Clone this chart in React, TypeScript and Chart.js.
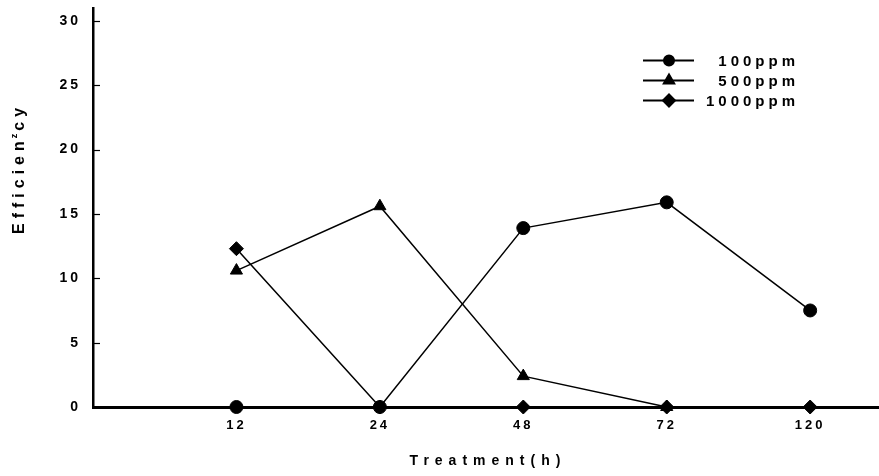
import React, { useEffect, useRef } from 'react';
import { Chart, registerables } from 'chart.js';
import { drawPoint } from 'chart.js/helpers';

Chart.register(...registerables);

const categories = ['12', '24', '48', '72', '120'];
const yTicks = [0, 5, 10, 15, 20, 25, 30];
const series100 = [0, 0, 13.9, 15.9, 7.5];
const series500 = [10.6, 15.6, 2.4, 0, null];
const series1000 = [12.3, 0, 0, 0, 0];
const seriesNames = ['100ppm', '500ppm', '1000ppm'];
const xTitle = 'Treatment(h)';
const yTitleMain = 'Efficien';
const yTitleSup = 'z';
const yTitleEnd = 'cy';

const FONT = '"Liberation Sans", Arial, Helvetica, sans-serif';

const toPoints = (vals: (number | null)[]) =>
  categories.map((_, i) => ({ x: i + 1, y: vals[i] }));

const legendStyles = [
  { style: 'circle', r: 5 },
  { style: 'triangle', r: 6 },
  { style: 'rectRot', r: 6 },
];

const decorPlugin = {
  id: 'decor',
  beforeDraw(chart: any) {
    chart.ctx.letterSpacing = '3px';
  },
  afterDraw(chart: any) {
    const ctx = chart.ctx as CanvasRenderingContext2D;
    const ys = chart.scales.y;
    const xs = chart.scales.x;
    ctx.save();
    ctx.letterSpacing = '0px';
    ctx.strokeStyle = '#000';
    ctx.fillStyle = '#000';
    // inward y tick marks
    ctx.lineWidth = 1.2;
    yTicks.forEach((v) => {
      const py = Math.round(ys.getPixelForValue(v)) + 0.5;
      ctx.beginPath();
      ctx.moveTo(xs.left, py);
      ctx.lineTo(xs.left + 7, py);
      ctx.stroke();
    });

    // legend
    seriesNames.forEach((name, i) => {
      const y = 60.5 + i * 20;
      ctx.lineWidth = 2;
      ctx.beginPath();
      ctx.moveTo(643, y);
      ctx.lineTo(694, y);
      ctx.stroke();
      const st = legendStyles[i];
      drawPoint(ctx, { pointStyle: st.style, radius: st.r, rotation: 0, borderWidth: 1 } as any, 669, y);
      ctx.font = `bold 15px ${FONT}`;
      ctx.letterSpacing = '4px';
      ctx.textAlign = 'right';
      ctx.textBaseline = 'middle';
      ctx.fillText(name, 799, y + 1);
      ctx.letterSpacing = '0px';
    });

    // x title
    ctx.font = `bold 14px ${FONT}`;
    ctx.letterSpacing = '6px';
    ctx.textAlign = 'center';
    ctx.textBaseline = 'middle';
    ctx.fillText(xTitle, 488, 461);

    // y title (rotated, with superscript)
    ctx.translate(24, 171);
    ctx.rotate(-Math.PI / 2);
    ctx.textAlign = 'left';
    ctx.textBaseline = 'alphabetic';
    ctx.font = `bold 16px ${FONT}`;
    ctx.letterSpacing = '5px';
    const w1 = ctx.measureText(yTitleMain).width;
    const w3 = ctx.measureText(yTitleEnd).width;
    ctx.font = `bold 9px ${FONT}`;
    ctx.letterSpacing = '0px';
    const w2 = ctx.measureText(yTitleSup).width + 1;
    const total = w1 + w2 + w3 - 5;
    const start = -total / 2;
    ctx.font = `bold 16px ${FONT}`;
    ctx.letterSpacing = '5px';
    ctx.fillText(yTitleMain, start, 0);
    ctx.font = `bold 9px ${FONT}`;
    ctx.letterSpacing = '0px';
    ctx.fillText(yTitleSup, start + w1 - 2, -7);
    ctx.font = `bold 16px ${FONT}`;
    ctx.letterSpacing = '5px';
    ctx.fillText(yTitleEnd, start + w1 + w2, 0);
    ctx.restore();
    ctx.letterSpacing = '0px';
  },
};

export default function App() {
  const ref = useRef<HTMLCanvasElement | null>(null);
  useEffect(() => {
    if (!ref.current) return;
    const common = {
      borderColor: '#000',
      backgroundColor: '#000',
      pointBackgroundColor: '#000',
      pointBorderColor: '#000',
      borderWidth: 1.5,
      pointBorderWidth: 1,
      spanGaps: false,
      tension: 0,
      clip: false,
    };
    const chart = new Chart(ref.current, {
      type: 'line',
      data: {
        datasets: [
          { ...common, label: seriesNames[0], data: toPoints(series100), pointStyle: 'circle', pointRadius: 6.5, order: 0 },
          { ...common, label: seriesNames[1], data: toPoints(series500), pointStyle: 'triangle', pointRadius: 7, order: 2 },
          { ...common, label: seriesNames[2], data: toPoints(series1000), pointStyle: 'rectRot', pointRadius: 7, order: 1 },
        ] as any,
      },
      options: {
        responsive: false,
        animation: false,
        devicePixelRatio: 1,
        layout: { autoPadding: false, padding: { top: 8, right: 0, left: 0, bottom: 0 } },
        plugins: { legend: { display: false }, tooltip: { enabled: false } },
        scales: {
          x: {
            type: 'linear',
            min: 0,
            max: 5.48,
            grid: { display: false, drawTicks: false },
            border: { display: true, color: '#000', width: 3 },
            ticks: {
              color: '#000',
              font: { family: FONT, size: 13, weight: 'bold' },
              padding: 11,
              autoSkip: false,
              maxRotation: 0,
              callback: (v: any) => categories[Number(v) - 1] ?? '',
            },
            afterBuildTicks: (s: any) => {
              s.ticks = categories.map((_, i) => ({ value: i + 1 }));
            },
            afterFit: (s: any) => {
              s.height = 69;
              s.paddingLeft = 0;
              s.paddingRight = 0;
            },
          },
          y: {
            min: 0,
            max: 31,
            grid: { display: false, drawTicks: false },
            border: { display: true, color: '#000', width: 2.5 },
            ticks: {
              color: '#000',
              font: { family: FONT, size: 14, weight: 'bold' },
              padding: 12,
            },
            afterBuildTicks: (s: any) => {
              s.ticks = yTicks.map((v) => ({ value: v }));
            },
            afterFit: (s: any) => {
              s.width = 93;
              s.paddingTop = 0;
              s.paddingBottom = 0;
            },
          },
        },
      } as any,
      plugins: [decorPlugin as any],
    });
    return () => chart.destroy();
  }, []);
  return (
    <div style={{ position: 'fixed', left: 0, top: 0, width: 879, height: 476, background: '#fff' }}>
      <canvas ref={ref} width={879} height={476} style={{ display: 'block' }} />
    </div>
  );
}
